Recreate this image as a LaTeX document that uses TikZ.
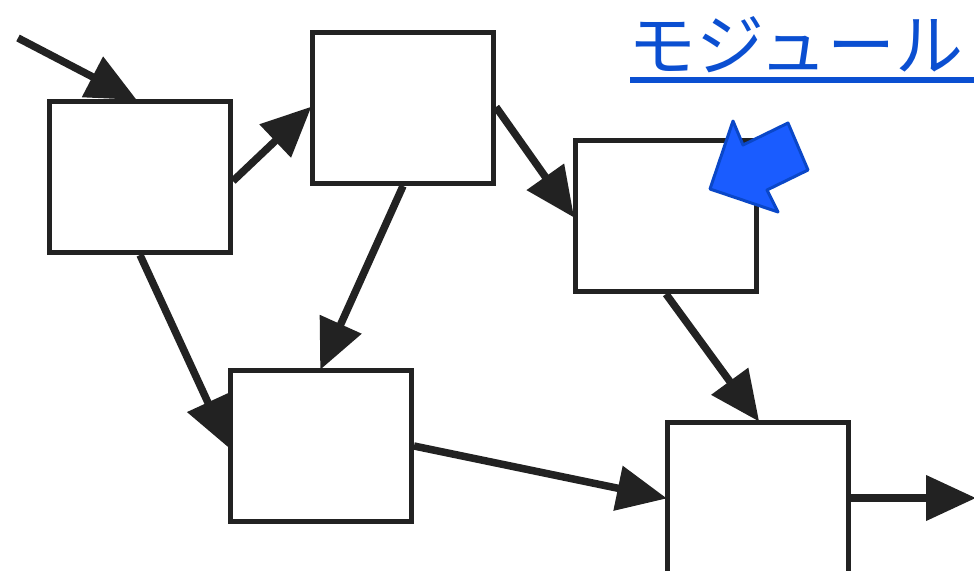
\documentclass[tikz,border=0pt]{standalone}
\usepackage{fontspec}
\newfontfamily\cjk{Noto Sans CJK JP}
\usetikzlibrary{arrows.meta,calc}
\definecolor{ink}{HTML}{222222}
\definecolor{bluefill}{HTML}{1A5CFF}
\definecolor{blueline}{HTML}{0A47C8}
\definecolor{textblue}{HTML}{0B4FD1}
\tikzset{
  box/.style={draw=ink, line width=5pt, fill=white, minimum width=181pt, minimum height=151pt, anchor=north west, inner sep=0pt},
  conn/.style={draw=ink, line width=7.5pt, -{Triangle[length=50pt,width=44pt]}, shorten >=-2pt},
}
\begin{document}
\begin{tikzpicture}[x=1pt,y=1pt]
\useasboundingbox (0,0) rectangle (974,-570);
\node[box] (A) at (47,-99) {};
\node[box] (B) at (310,-30) {};
\node[box] (C) at (573,-138) {};
\node[box] (D) at (228,-368) {};
\node[box] (E) at (665,-420) {};
\coordinate (in) at (18,-38);
\coordinate (out) at ($(E.east)+(123,0)$);
\draw[conn] (in) -- ([xshift=88pt]A.north west);
\draw[conn] ([yshift=-4pt]A.east) -- (B.west);
\draw[conn] ([yshift=1pt]B.east) -- (C.west);
\draw[conn] (B.south) -- (D.north);
\draw[conn] (A.south) -- (D.west);
\draw[conn] (C.south) -- (E.north);
\draw[conn] (D.east) -- (E.west);
\draw[conn] (E.east) -- (out);
% blue pointer arrow
\draw[blueline, fill=bluefill, line width=3pt, line join=round]
  (733,-121) -- (743,-145) -- (788,-123) -- (808,-170) -- (767,-190) -- (778,-212) -- (710,-189) -- cycle;
% title
\node[anchor=base west, inner sep=0pt, text=textblue, font=\cjk\fontsize{68}{68}\selectfont] (T) at (628,-70) {モジュール};
\draw[textblue, line width=6pt] (630,-80) -- (974,-80);
\end{tikzpicture}
\end{document}
